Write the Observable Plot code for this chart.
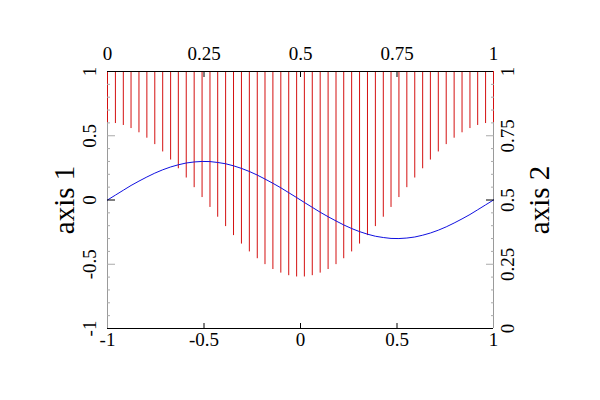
<!DOCTYPE html>
<html>
<head>
<meta charset="utf-8">
<script src="https://cdn.jsdelivr.net/npm/d3@7"></script>
<script src="https://cdn.jsdelivr.net/npm/@observablehq/plot@0.6"></script>
<style>
  html, body { margin: 0; padding: 0; background: #fff; }
  svg text { font-family: "Liberation Serif", "Times New Roman", serif !important; }
</style>
</head>
<body>
<div id="chart"></div>
<script>
// Sample positions on axis 1 (x)
const sampleX = [-1, -0.959, -0.918, -0.878, -0.837, -0.796, -0.755, -0.714, -0.673, -0.633,
  -0.592, -0.551, -0.510, -0.469, -0.429, -0.388, -0.347, -0.306, -0.265, -0.224,
  -0.184, -0.143, -0.102, -0.061, -0.020, 0.020, 0.061, 0.102, 0.143, 0.184,
  0.224, 0.265, 0.306, 0.347, 0.388, 0.429, 0.469, 0.510, 0.551, 0.592,
  0.633, 0.673, 0.714, 0.755, 0.796, 0.837, 0.878, 0.918, 0.959, 1];

// Lower ends of the red impulses (drawn down from y = 1)
const redBottom = [0.600, 0.595, 0.580, 0.556, 0.523, 0.481, 0.431, 0.374, 0.311, 0.243,
  0.171, 0.096, 0.019, -0.058, -0.134, -0.207, -0.277, -0.343, -0.404, -0.457,
  -0.503, -0.541, -0.569, -0.589, -0.599, -0.599, -0.589, -0.569, -0.541, -0.503,
  -0.457, -0.404, -0.343, -0.277, -0.207, -0.134, -0.058, 0.019, 0.096, 0.171,
  0.243, 0.311, 0.374, 0.431, 0.481, 0.523, 0.556, 0.580, 0.595, 0.600];

// Blue curve values
const blueY = [0, 0.038, 0.076, 0.113, 0.147, 0.179, 0.209, 0.235, 0.257, 0.274,
  0.288, 0.296, 0.300, 0.299, 0.292, 0.282, 0.266, 0.246, 0.222, 0.194,
  0.163, 0.130, 0.095, 0.057, 0.019, -0.019, -0.057, -0.095, -0.130, -0.163,
  -0.194, -0.222, -0.246, -0.266, -0.282, -0.292, -0.299, -0.300, -0.296, -0.288,
  -0.274, -0.257, -0.235, -0.209, -0.179, -0.147, -0.113, -0.076, -0.038, 0];

// Ticks and labels
const xTicks = [-1, -0.5, 0, 0.5, 1];
const xLabels = ["-1", "-0.5", "0", "0.5", "1"];
const x2Labels = ["0", "0.25", "0.5", "0.75", "1"];
const yTicks = [-1, -0.5, 0, 0.5, 1];
const yLabels = ["-1", "-0.5", "0", "0.5", "1"];
const y2Labels = ["0", "0.25", "0.5", "0.75", "1"];
const xInnerTicks = [-0.5, 0, 0.5];
const yGrayTicks = [-0.5, 0.5];
const yBlackTicks = [0];
const yMinorTicks = [-0.9, -0.8, -0.7, -0.6, -0.4, -0.3, -0.2, -0.1, 0.1, 0.2, 0.3, 0.4, 0.6, 0.7, 0.8, 0.9];
const yTitle = "axis 1";
const y2Title = "axis 2";

const redLines = sampleX.map((x, i) => ({x, y: redBottom[i]}));
const blueLine = sampleX.map((x, i) => ({x, y: blueY[i]}));

const fmt = (ticks, labels) => d => labels[ticks.indexOf(d)];

const font = "'Liberation Serif', 'Times New Roman', serif";

const tickX = (anchor, ticks, size, stroke) =>
  Plot.axisX({anchor, ticks, tickSize: size, stroke, text: null, label: null});
const tickY = (anchor, ticks, size, stroke) =>
  Plot.axisY({anchor, ticks, tickSize: size, stroke, text: null, label: null});

const chart = Plot.plot({
  width: 600,
  height: 400,
  marginLeft: 107,
  marginRight: 107,
  marginTop: 71,
  marginBottom: 72,
  style: {fontFamily: font, fontSize: "19px", background: "#fff", color: "#000"},
  x: {domain: [-1, 1]},
  y: {domain: [-1, 1]},
  marks: [
    // gray side axes
    Plot.ruleX([-1, 1], {stroke: "#9a9a9a", strokeWidth: 1}),
    // red impulses
    Plot.ruleX(redLines, {x: "x", y1: 1, y2: "y", stroke: "#d41010", strokeWidth: 1}),
    // blue curve
    Plot.line(blueLine, {x: "x", y: "y", stroke: "#1010e0", strokeWidth: 1}),
    // top / bottom frame
    Plot.ruleY([-1, 1], {stroke: "#000", strokeWidth: 1}),
    // inward ticks
    tickX("bottom", xInnerTicks, -5, "#000"),
    tickX("top", xInnerTicks, -5, "#000"),
    tickY("left", yMinorTicks, -3, "#aaa"),
    tickY("right", yMinorTicks, -3, "#aaa"),
    tickY("left", yGrayTicks, -8, "#aaa"),
    tickY("right", yGrayTicks, -8, "#aaa"),
    tickY("left", yBlackTicks, -8, "#000"),
    tickY("right", yBlackTicks, -8, "#000"),
    // tick labels
    Plot.axisX({anchor: "bottom", ticks: xTicks, tickFormat: fmt(xTicks, xLabels), tickSize: 0, tickPadding: 4, fontSize: 19, fontFamily: font, label: null}),
    Plot.axisX({anchor: "top", ticks: xTicks, tickFormat: fmt(xTicks, x2Labels), tickSize: 0, tickPadding: 12, fontSize: 19, fontFamily: font, label: null}),
    Plot.axisY({anchor: "left", ticks: yTicks, tickFormat: fmt(yTicks, yLabels), tickSize: 0, tickPadding: 12, tickRotate: -90, fontSize: 19, fontFamily: font, label: null}),
    Plot.axisY({anchor: "right", ticks: yTicks, tickFormat: fmt(yTicks, y2Labels), tickSize: 0, tickPadding: 20, tickRotate: -90, fontSize: 19, fontFamily: font, label: null}),
    // axis titles
    Plot.text([yTitle], {frameAnchor: "left", text: d => d, dx: -34, rotate: -90, lineAnchor: "bottom", textAnchor: "middle", fontSize: 29, fontFamily: font, fill: "#000"}),
    Plot.text([y2Title], {frameAnchor: "right", text: d => d, dx: 55, rotate: -90, lineAnchor: "bottom", textAnchor: "middle", fontSize: 29, fontFamily: font, fill: "#000"})
  ]
});

document.getElementById("chart").appendChild(chart);
</script>
</body>
</html>
